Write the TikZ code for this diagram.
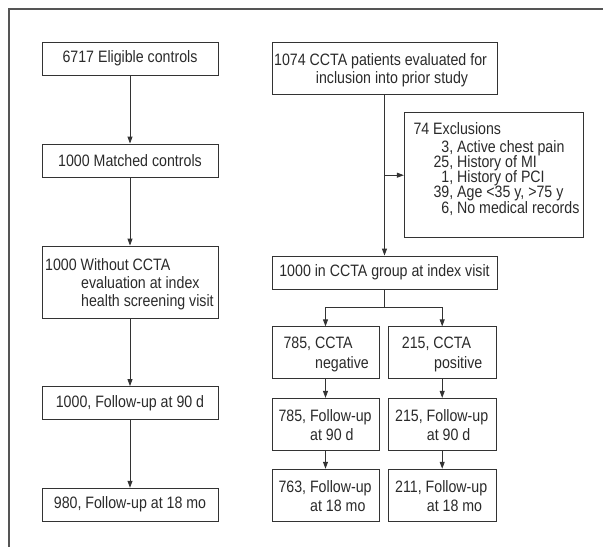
\documentclass[tikz,border=0pt]{standalone}
\usepackage{fontspec}
\setmainfont{Liberation Sans}[FakeStretch=0.86]
\usetikzlibrary{arrows.meta}
\newcommand\figfs{\fontsize{16.5pt}{19pt}\selectfont}
\definecolor{ink}{HTML}{2A2A2A}
\definecolor{edge}{HTML}{333333}
\definecolor{frame}{HTML}{555555}
\begin{document}
\begin{tikzpicture}[x=1pt,y=-1pt,
  bx/.style={draw=edge, line width=0.9pt, inner sep=0pt, font=\figfs, text=ink},
  tl/.style={anchor=base west, inner sep=0pt, font=\figfs, text=ink},
  arr/.style={draw=edge, line width=0.9pt, -{Triangle[length=7pt,width=5pt]}},
  ln/.style={draw=edge, line width=0.9pt}]
\useasboundingbox (0,0) rectangle (603,547);
% outer frame (top and left sides)
\draw[frame, line width=1.6pt] (603,9) -- (9,9) -- (9,547);

% left column
\node[bx, minimum width=176pt, minimum height=33pt] (a1) at (130,58.5) {6717 Eligible controls};
\node[bx, minimum width=176pt, minimum height=33pt] (a2) at (130,160.5) {1000 Matched controls};
\node[bx, minimum width=176pt, minimum height=72pt] (a3) at (130,282) {};
\node[tl] (a3t1) at (45,270) {1000 Without CCTA};
\node[tl] (a3t2) at (81,288.3) {evaluation at index};
\node[tl] (a3t3) at (81,306.6) {health screening visit};
\node[bx, minimum width=176pt, minimum height=33pt] (a4) at (130,403) {1000, Follow-up at 90 d};
\node[bx, minimum width=176pt, minimum height=33pt] (a5) at (130,504.7) {980, Follow-up at 18 mo};

% right column
\node[bx, minimum width=225pt, minimum height=52pt] (b1) at (384.5,68) {};
\node[tl] (b1t1) at (274,65) {1074 CCTA patients evaluated for};
\node[tl] (b1t2) at (315.7,83.3) {inclusion into prior study};

\node[bx, minimum width=179pt, minimum height=125pt] (ex) at (493.8,175.2) {};
\node[tl] (ext1) at (413.3,134.3) {74 Exclusions};
\node[tl] (ext2) at (433.3,152.7) {\hphantom{0}3, Active chest pain};
\node[tl] (ext3) at (433.3,167.7) {25, History of MI};
\node[tl] (ext4) at (433.3,182.7) {\hphantom{0}1, History of PCI};
\node[tl] (ext5) at (433.3,197.7) {39, Age <35 y, >75 y};
\node[tl] (ext6) at (433.3,213.3) {\hphantom{0}6, No medical records};

\node[bx, minimum width=225pt, minimum height=33pt] (b2) at (384.5,272.5) {1000 in CCTA group at index visit};

\node[bx, minimum width=107pt, minimum height=52pt] (c1) at (325.5,352.8) {};
\node[tl] (c1t1) at (283.3,348.3) {785, CCTA};
\node[tl] (c1t2) at (315,368.3) {negative};
\node[bx, minimum width=107.6pt, minimum height=52pt] (d1) at (442.2,352.8) {};
\node[tl] (d1t1) at (401.7,348.3) {215, CCTA};
\node[tl] (d1t2) at (434,368.3) {positive};

\node[bx, minimum width=107pt, minimum height=52pt] (c2) at (325.5,424.3) {};
\node[tl] (c2t1) at (278.3,421.7) {785, Follow-up};
\node[tl] (c2t2) at (310,440) {at 90 d};
\node[bx, minimum width=107.6pt, minimum height=52pt] (d2) at (442.2,424.3) {};
\node[tl] (d2t1) at (395,421.7) {215, Follow-up};
\node[tl] (d2t2) at (426.7,440) {at 90 d};

\node[bx, minimum width=107pt, minimum height=52pt] (c3) at (325.5,495.2) {};
\node[tl] (c3t1) at (278.3,492.7) {763, Follow-up};
\node[tl] (c3t2) at (310,511.7) {at 18 mo};
\node[bx, minimum width=107.6pt, minimum height=52pt] (d3) at (442.2,495.2) {};
\node[tl] (d3t1) at (395,492.7) {211, Follow-up};
\node[tl] (d3t2) at (426.7,511.7) {at 18 mo};

% connectors
\draw[arr] (a1) -- (a2);
\draw[arr] (a2) -- (a3);
\draw[arr] (a3) -- (a4);
\draw[arr] (a4) -- (a5);
\draw[arr] (b1) -- (b2);
\draw[arr] (b1.south |- ex.west) -- (ex.west);
\coordinate (br) at (384.5,307.7);
\draw[ln] (b2) -- (br);
\draw[arr] (br) -| (c1);
\draw[arr] (br) -| (d1);
\draw[arr] (c1) -- (c2);
\draw[arr] (c2) -- (c3);
\draw[arr] (d1) -- (d2);
\draw[arr] (d2) -- (d3);
\end{tikzpicture}
\end{document}
